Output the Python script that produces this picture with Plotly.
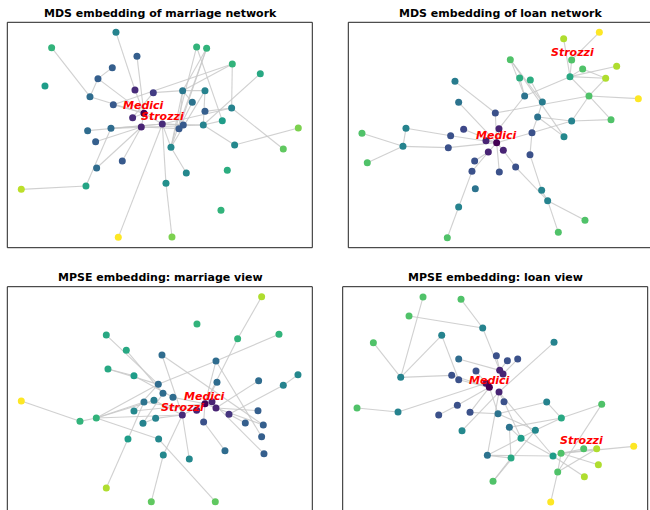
import plotly.graph_objects as go

W, H = 650, 510

# ---------------- Panel 1: MDS embedding of marriage network ----------------
p1_x = [348,155,590,620,411,697,337,781,294,135,405,460,548,615,270,577,340,615,695,432,398,487,667,263,333,424,550,537,610,895,287,704,513,850,367,290,682,559,498,258,64,663,355,516]
p1_y = [97,143,141,145,169,192,203,221,236,258,270,278,272,272,290,307,314,334,324,340,353,372,362,392,385,381,375,386,375,384,425,435,442,447,483,504,511,519,550,558,568,631,712,711]
p1_c = [0.45,0.65,0.65,0.65,0.3,0.65,0.3,0.6,0.3,0.55,0.12,0.18,0.4,0.45,0.35,0.38,0.28,0.3,0.45,0.0,0.12,0.12,0.55,0.35,0.35,0.1,0.28,0.28,0.45,0.8,0.3,0.47,0.47,0.75,0.28,0.35,0.62,0.47,0.5,0.58,0.9,0.65,1.0,0.8]
p1_edges = [(1,11),(2,15),(5,20),(7,9),(9,15),(9,20),(15,20),(25,40),(40,41),(17,20),(24,22),(25,22),(25,29),(31,26),(36,26),(35,26),(43,22),(44,39),(39,22),(38,33),(33,22),(33,13),(33,14),(3,33),(3,23),(4,28),(4,13),(4,33),(6,13),(6,19),(6,17),(8,29),(19,18),(19,34),(19,22),(29,32),(30,32),(14,13),(14,29),(16,13),(16,28),(23,29),(12,13),(11,20),(21,20),(26,20),(22,20),(22,29),(27,22),(13,28),(26,28),(12,21)]
p1_labels = ["Medici", "Strozzi"]
p1_lx = [432, 487]
p1_ly = [318, 350]

# ---------------- Panel 2: MDS embedding of loan network ----------------
p2_x = [823,716,556,740,773,875,584,616,735,842,390,599,792,940,401,652,511,638,740,858,243,416,522,111,377,621,717,483,515,234,370,490,535,615,449,127,441,523,572,451,650,668,401,780,700,367]
p2_y = [97,116,179,180,207,199,234,240,230,235,244,288,288,296,307,306,339,351,363,359,385,388,386,400,407,398,410,422,428,439,443,456,451,464,483,488,514,516,501,566,571,602,621,661,697,713]
p2_c = [1.0,0.88,0.72,0.72,0.72,0.88,0.62,0.62,0.6,0.88,0.42,0.38,0.72,1.0,0.38,0.42,0.25,0.38,0.45,0.72,0.45,0.22,0.1,0.72,0.25,0.25,0.47,0.1,0.0,0.45,0.25,0.1,0.1,0.25,0.25,0.72,0.25,0.25,0.25,0.38,0.45,0.45,0.45,0.72,0.72,0.72]
p2_edges = [(1,4),(2,9),(4,9),(5,9),(5,10),(6,9),(9,10),(10,13),(9,13),(9,12),(13,14),(13,17),(13,19),(13,20),(19,20),(18,19),(3,12),(3,27),(3,16),(7,12),(8,16),(12,23),(11,17),(15,29),(17,29),(16,18),(18,26),(26,34),(34,41),(26,19),(26,29),(21,25),(21,30),(24,30),(36,30),(30,31),(31,29),(25,29),(22,29),(23,29),(28,29),(32,29),(33,29),(33,39),(39,42),(41,42),(42,44),(42,45),(32,35),(32,37),(37,43),(43,46),(29,38),(18,27)]
p2_labels = ["Medici", "Strozzi"]
p2_lx = [516, 742]
p2_ly = [405, 157]

# ---------------- Panel 3: MPSE embedding: marriage view ----------------
p3_x = [785,591,319,713,837,379,486,648,324,402,894,651,776,850,475,489,519,432,462,64,615,636,648,590,402,547,687,774,240,289,467,429,611,736,790,785,384,476,490,568,675,792,319,454,646]
p3_y = [125,207,240,251,238,286,300,318,342,362,359,382,377,391,388,415,427,441,436,438,446,440,459,466,468,480,478,467,499,489,490,505,501,504,510,545,552,552,600,612,587,596,699,740,740]
p3_c = [0.88,0.65,0.6,0.65,0.65,0.6,0.35,0.35,0.6,0.55,0.47,0.35,0.35,0.45,0.35,0.35,0.35,0.38,0.42,1.0,0.0,0.1,0.1,0.1,0.47,0.12,0.15,0.3,0.65,0.65,0.45,0.45,0.25,0.3,0.3,0.3,0.55,0.47,0.47,0.47,0.35,0.3,0.88,0.75,0.75]
p3_edges = [(1,4),(4,21),(5,8),(8,15),(3,15),(6,16),(7,26),(7,35),(8,36),(8,21),(9,10),(9,15),(10,17),(12,21),(13,23),(14,27),(20,29),(29,30),(30,15),(30,18),(30,26),(30,19),(30,38),(38,45),(37,43),(37,18),(39,44),(39,26),(40,26),(41,33),(42,22),(34,27),(35,23),(28,23),(33,21),(17,21),(18,24),(19,26),(25,21),(31,26),(32,31),(32,16),(26,21),(22,21),(23,21),(24,21),(11,14),(25,15)]
p3_labels = ["Medici", "Strozzi"]
p3_lx = [615, 547]
p3_ly = [425, 458]

# ---------------- Panel 4: MPSE embedding: loan view ----------------
p4_x = [294,408,252,473,350,687,145,401,514,547,578,453,524,534,380,227,401,483,493,522,537,665,830,96,219,397,435,341,519,709,553,631,411,588,776,815,926,708,684,487,558,820,698,778,504,677]
p4_y = [126,133,183,219,241,262,263,312,302,317,312,348,346,357,361,367,374,385,397,411,440,441,448,459,471,451,472,480,476,489,517,526,527,550,581,581,574,595,603,601,609,629,651,665,679,741]
p4_c = [0.72,0.72,0.72,0.45,0.45,0.45,0.72,0.35,0.25,0.25,0.25,0.25,0.1,0.1,0.25,0.45,0.25,0.05,0.0,0.1,0.25,0.45,0.72,0.72,0.45,0.25,0.25,0.25,0.38,0.6,0.38,0.47,0.47,0.55,0.72,0.88,1.0,0.72,0.55,0.38,0.6,0.88,0.72,0.88,0.72,1.0]
p4_edges = [(1,16),(2,4),(3,4),(4,13),(5,16),(5,17),(7,16),(16,15),(8,13),(6,20),(9,13),(12,19),(15,19),(17,19),(24,25),(25,18),(28,26),(26,19),(27,19),(27,29),(33,20),(21,20),(21,34),(29,19),(20,40),(22,30),(23,30),(23,43),(30,32),(30,31),(32,40),(31,41),(31,34),(34,39),(40,41),(40,39),(41,45),(32,45),(38,37),(38,36),(38,35),(38,39),(38,43),(38,42),(43,46),(43,36),(39,44),(29,22),(10,13),(11,14),(20,39),(29,32)]
p4_labels = ["Medici", "Strozzi"]
p4_lx = [493, 770]
p4_ly = [375, 557]

titles = ["MDS embedding of marriage network", "MDS embedding of loan network",
          "MPSE embedding: marriage view", "MPSE embedding: loan view"]

panels = [
    (p1_x, p1_y, p1_c, p1_edges, p1_labels, p1_lx, p1_ly),
    (p2_x, p2_y, p2_c, p2_edges, p2_labels, p2_lx, p2_ly),
    (p3_x, p3_y, p3_c, p3_edges, p3_labels, p3_lx, p3_ly),
    (p4_x, p4_y, p4_c, p4_edges, p4_labels, p4_lx, p4_ly),
]

# layout geometry (pixels in the 650x510 window)
px_left = [7.3, 348.3, 7.3, 342.7]
px_right = [312.3, 650.0, 312.3, 647.7]
px_top = [22.3, 22.3, 286.7, 286.7]
px_bottom = [247.7, 247.7, 510.0, 510.0]
x_ranges = [[22, 937], [70, 975], [22, 937], [53, 968]]
y_ranges = [[743, 67], [743, 67], [765, 95], [765, 95]]
title_y = [13, 13, 277.5, 277.5]
title_cx = [160, 500.5, 160, 495.2]

fig = go.Figure()
shapes = []
annotations = []
edge_color = "rgba(200,200,200,0.85)"

for i, (xs, ys, cs, edges, labels, lx, ly) in enumerate(panels):
    k = "" if i == 0 else str(i + 1)
    xa, ya = "x" + k, "y" + k
    ex, ey = [], []
    for a, b in edges:
        ex += [xs[a - 1], xs[b - 1], None]
        ey += [ys[a - 1], ys[b - 1], None]
    fig.add_trace(go.Scatter(x=ex, y=ey, mode="lines", xaxis=xa, yaxis=ya,
                             line=dict(color=edge_color, width=1.1), hoverinfo="skip",
                             showlegend=False))
    fig.add_trace(go.Scatter(x=xs, y=ys, mode="markers", xaxis=xa, yaxis=ya,
                             marker=dict(size=7, color=cs, colorscale="Viridis", cmin=0, cmax=1,
                                         line=dict(width=0)),
                             showlegend=False))
    for t, tx, ty in zip(labels, lx, ly):
        annotations.append(dict(x=tx, y=ty, xref=xa, yref=ya, text=t, showarrow=False,
                                xanchor="center", yanchor="middle",
                                font=dict(family="DejaVu Sans", size=11, color="red",
                                          weight="bold", style="italic")))
    dom_x = [px_left[i] / W, px_right[i] / W]
    dom_y = [1 - px_bottom[i] / H, 1 - px_top[i] / H]
    axname = "xaxis" + k
    ayname = "yaxis" + k
    fig.update_layout({
        axname: dict(domain=dom_x, range=x_ranges[i], visible=False, anchor=ya),
        ayname: dict(domain=dom_y, range=y_ranges[i], visible=False, anchor=xa),
    })
    annotations.append(dict(x=title_cx[i] / W, y=1 - title_y[i] / H, xref="paper", yref="paper",
                            text=titles[i], showarrow=False, xanchor="center", yanchor="middle",
                            font=dict(family="DejaVu Sans", size=11, color="black", weight="bold")))
    # frame (only visible sides)
    L, R = dom_x
    B, T = dom_y
    lc = dict(color="#222222", width=1)
    shapes.append(dict(type="line", xref="paper", yref="paper", x0=L, x1=R, y0=T, y1=T, line=lc))
    shapes.append(dict(type="line", xref="paper", yref="paper", x0=L, x1=L, y0=B, y1=T, line=lc))
    if i in (0, 2, 3):
        shapes.append(dict(type="line", xref="paper", yref="paper", x0=R, x1=R, y0=B, y1=T, line=lc))
    if i in (0, 1):
        shapes.append(dict(type="line", xref="paper", yref="paper", x0=L, x1=R, y0=B, y1=B, line=lc))

fig.update_layout(width=W, height=H, margin=dict(l=0, r=0, t=0, b=0),
                  plot_bgcolor="white", paper_bgcolor="white",
                  shapes=shapes, annotations=annotations, showlegend=False)

fig.write_html("out.html", config={"displayModeBar": False},
               post_script="document.body.style.margin='0px';document.body.style.overflow='hidden';")
